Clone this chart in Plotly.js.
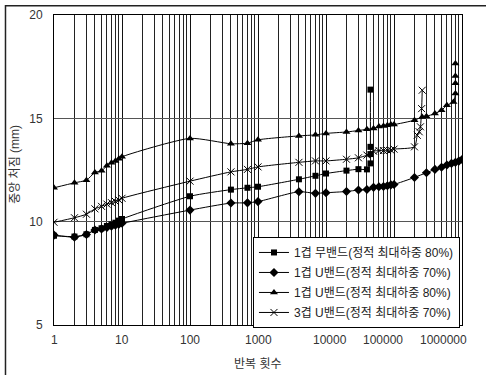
<!DOCTYPE html>
<html>
<head>
<meta charset="utf-8">
<script src="https://cdn.plot.ly/plotly-3.0.1.min.js"></script>
<style>html,body{margin:0;padding:0;background:#fff;}#chart{width:486px;height:375px;}</style>
</head>
<body>
<div id="chart"></div>
<script>
// Series names
const seriesNames = [
  "1겹 무밴드(정적 최대하중 80%)",
  "1겹 U밴드(정적 최대하중 70%)",
  "1겹 U밴드(정적 최대하중 80%)",
  "3겹 U밴드(정적 최대하중 70%)"
];

// 1겹 무밴드 (80%) - squares
const xSquare = [1,2,3,4,5,6,7,8,9,10,100,400,700,1000,4000,7000,10000,20000,30000,40000,45000,45000,45000,45000];
const ySquare = [9.32,9.28,9.39,9.6,9.68,9.79,9.87,9.95,10.05,10.13,11.23,11.55,11.64,11.69,12.05,12.22,12.33,12.47,12.54,12.53,12.82,13.27,13.62,16.39];

// 1겹 U밴드 (70%) - diamonds
const xDiamond = [1,2,3,4,5,6,7,8,9,10,100,400,700,1000,4000,7000,10000,20000,30000,40000,50000,60000,70000,80000,90000,100000,200000,300000,400000,500000,600000,700000,800000,900000,1000000];
const yDiamond = [9.35,9.25,9.38,9.6,9.65,9.72,9.78,9.83,9.88,9.92,10.56,10.9,10.91,10.97,11.45,11.37,11.4,11.46,11.53,11.56,11.66,11.69,11.7,11.74,11.78,11.8,12.14,12.37,12.53,12.63,12.74,12.82,12.87,12.93,13.01];

// 1겹 U밴드 (80%) - triangles
const xTriangle = [1,2,3,4,5,6,7,8,9,10,100,400,700,1000,4000,7000,10000,20000,30000,40000,50000,60000,70000,80000,90000,100000,200000,260000,300000,400000,500000,600000,750000,800000,800000,800000,800000];
const yTriangle = [11.64,11.88,12.01,12.38,12.46,12.70,12.85,12.94,13.04,13.14,14.03,13.77,13.80,13.96,14.15,14.2,14.27,14.34,14.41,14.47,14.51,14.6,14.63,14.67,14.7,14.7,14.91,15.07,15.1,15.23,15.39,15.63,15.79,16.2,16.7,17.05,17.65];

// 3겹 U밴드 (70%) - crosses
const xCross = [1,2,3,4,5,6,7,8,9,10,100,400,700,1000,4000,7000,10000,20000,30000,40000,50000,60000,70000,80000,90000,100000,200000,220000,235000,245000,255000,260000];
const yCross = [9.97,10.19,10.36,10.62,10.74,10.85,10.92,10.98,11.05,11.13,11.96,12.41,12.53,12.65,12.87,12.94,12.94,13.02,13.09,13.22,13.41,13.44,13.44,13.45,13.46,13.51,13.62,14.18,14.35,14.59,15.47,16.36];

// Axis ticks
const NB = '\u00A0';
const xTickVals = [1,10,100,1000,10000,100000,1000000];
const xTickText = ["1","10","100","1000","10000","100000","1000000"];
// the two last labels sit left of their ticks in the original (drawn as annotations below)
const xLabelNudge = [0,0,0,0,4,-11,-19];
const yTickVals = [5,10,15,20];
const yTickText = ["5","10","15","20"];
const yTitle = '중앙 처짐 (mm)';
const xTitle = '반복 횟수';

const minorVals = [];
for (let d = 1; d < 1000000; d *= 10) {
  for (let k = 2; k <= 9; k++) minorVals.push(k * d);
}

const lineStyle = {color: '#000', width: 1, shape: 'spline', smoothing: 0.6};
function mk(x, y, name, symbol, size, group) {
  return {
    x: x, y: y, name: name, type: 'scatter', mode: 'lines+markers',
    line: lineStyle, legendgroup: group,
    marker: {symbol: symbol, size: size, color: '#000', line: {color: '#000', width: symbol.indexOf('open') >= 0 ? 1 : 0}}
  };
}

const data = [
  mk(xSquare, ySquare, seriesNames[0], 'square', 6, 'a'),
  mk(xDiamond, yDiamond, seriesNames[1], 'diamond', 7, 'b'),
  mk(xTriangle, yTriangle, seriesNames[2], 'triangle-up', 7, 'c'),
  mk(xCross, yCross, seriesNames[3], 'x-thin-open', 7, 'd')
];

const fontFam = '"Liberation Sans", "Noto Sans CJK KR", Arial, sans-serif';

const tickAnnotations = xTickVals.map((v, i) => ({
  text: xTickText[i], xref: 'x', yref: 'paper', x: Math.log10(v), y: 0,
  xanchor: 'center', yanchor: 'top', yshift: -6, xshift: xLabelNudge[i],
  showarrow: false, font: {size: 12, color: '#333'}
}));

const layout = {
  width: 486, height: 375,
  margin: {l: 54, r: 24, t: 14.5, b: 49.7, pad: 0},
  paper_bgcolor: '#fff', plot_bgcolor: '#fff',
  font: {family: fontFam, size: 12, color: '#333'},
  showlegend: true,
  legend: {
    x: 0.4877, y: 0.284, xanchor: 'left', yanchor: 'top',
    bgcolor: '#fff', bordercolor: '#000', borderwidth: 1,
    font: {family: fontFam, size: 12, color: '#222'},
    itemwidth: 30,
    traceorder: 'grouped', tracegroupgap: 1
  },
  xaxis: {
    type: 'log', range: [0, 6],
    tickmode: 'array', tickvals: xTickVals, ticktext: xTickText,
    showticklabels: false,
    showgrid: true, gridcolor: '#111', gridwidth: 1,
    minor: {tickmode: 'array', tickvals: minorVals, showgrid: true, gridcolor: '#222', gridwidth: 1, ticks: ''},
    showline: true, linecolor: '#000', linewidth: 1, mirror: true,
    ticks: '', zeroline: false
  },
  yaxis: {
    range: [5, 20],
    tickmode: 'array', tickvals: yTickVals, ticktext: yTickText,
    showgrid: true, gridcolor: '#555', gridwidth: 1,
    showline: true, linecolor: '#000', linewidth: 1, mirror: true,
    ticks: '', zeroline: false, ticklabelstandoff: 8,
    tickfont: {size: 12, color: '#333'}
  },
  annotations: tickAnnotations.concat([
    {text: yTitle, xref: 'paper', yref: 'paper', x: -0.0956, y: 0.52, xanchor: 'center', yanchor: 'middle',
     textangle: -90, showarrow: false, font: {size: 12, color: '#333'}},
    {text: xTitle, xref: 'paper', yref: 'paper', x: 0.5, y: 0, xanchor: 'center', yanchor: 'top', yshift: -30,
     showarrow: false, font: {size: 12, color: '#333'}}
  ]),
  shapes: [
    {type: 'rect', xref: 'paper', yref: 'paper', x0: -0.1189, x1: 1.2, y0: -0.2, y1: 1.0299,
     line: {color: '#222', width: 1.5}, fillcolor: 'rgba(0,0,0,0)', layer: 'above'}
  ]
};

Plotly.newPlot('chart', data, layout, {displayModeBar: false, staticPlot: true});
</script>
</body>
</html>
